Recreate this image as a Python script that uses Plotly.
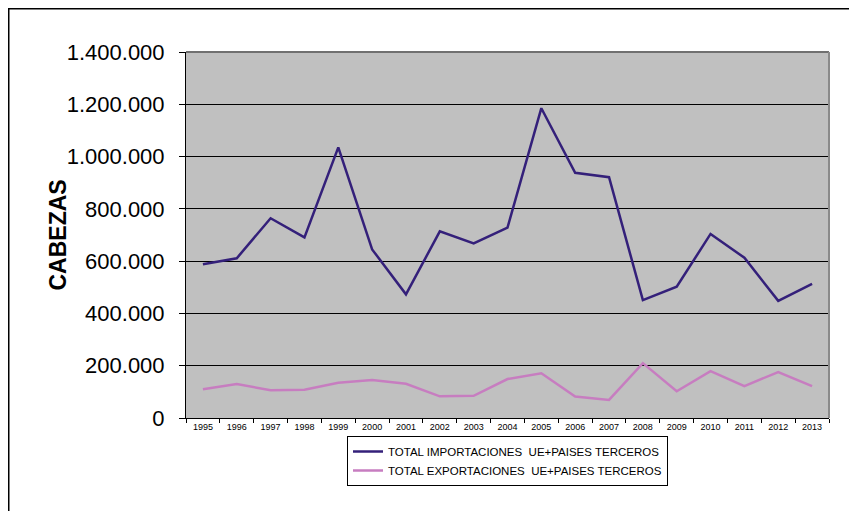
import plotly.graph_objects as go

years = [str(y) for y in range(1995, 2014)]
importaciones = [588000, 611000, 764000, 691000, 1035000, 645000, 473000, 714000, 668000, 728000,
                 1185000, 938000, 921000, 451000, 502000, 704000, 613000, 448000, 513000]
exportaciones = [110000, 130000, 106000, 108000, 135000, 145000, 131000, 83000, 85000, 149000,
                 171000, 82000, 69000, 210000, 102000, 179000, 122000, 176000, 122000]
y_ticks = [0, 200000, 400000, 600000, 800000, 1000000, 1200000, 1400000]

FONT = "Arial, Liberation Sans, sans-serif"

fig = go.Figure()
fig.add_trace(go.Scatter(x=years, y=importaciones, mode="lines",
                         name="TOTAL IMPORTACIONES  UE+PAISES TERCEROS",
                         line=dict(color="#34207a", width=2.5)))
fig.add_trace(go.Scatter(x=years, y=exportaciones, mode="lines",
                         name="TOTAL EXPORTACIONES  UE+PAISES TERCEROS",
                         line=dict(color="#c77dc0", width=2.5)))

OFF = 8  # page body margin
W, H = 857 - OFF, 511 - OFF
L, R, T, B = 186 - OFF, 829 - OFF, 52 - OFF, 418 - OFF
pw, ph = R - L, B - T

def px(xp):
    return (xp - L) / pw

def py(yp):
    return (B - yp) / ph

fig.update_layout(
    width=W, height=H,
    margin=dict(l=L, r=W - R, t=T, b=H - B),
    paper_bgcolor="white",
    plot_bgcolor="#c0c0c0",
    separators=",.",
    font=dict(family=FONT, color="black"),
    showlegend=True,
    legend=dict(x=0.5, xanchor="center", y=py(436 - OFF), yanchor="top",
                orientation="v", bgcolor="white", bordercolor="black", borderwidth=1,
                font=dict(size=11.5, family=FONT), tracegroupgap=0, itemwidth=30),
    xaxis=dict(type="category", showgrid=False, showline=True, linecolor="black", linewidth=1,
               ticks="outside", tickson="boundaries", ticklen=4, tickcolor="black",
               tickfont=dict(size=9, family=FONT), range=[-0.5, 18.5], mirror=False),
    yaxis=dict(range=[0, 1400000], tickvals=y_ticks, tickformat=",d",
               showgrid=True, gridcolor="black", gridwidth=1,
               showline=True, linecolor="black", linewidth=1,
               ticks="outside", ticklen=6, tickcolor="black", ticklabelstandoff=10,
               tickfont=dict(size=22, family=FONT), zeroline=False),
    annotations=[
        dict(text="<b>CABEZAS</b>", xref="paper", yref="paper", x=px(57.5 - OFF), y=0.5,
             xanchor="center", yanchor="middle", textangle=-90, showarrow=False,
             font=dict(size=23, family=FONT, color="black")),
    ],
    shapes=[
        dict(type="line", xref="paper", yref="paper", x0=0, x1=1, y0=1, y1=1,
             line=dict(color="#707070", width=2)),
        dict(type="line", xref="paper", yref="paper", x0=1, x1=1, y0=0, y1=1,
             line=dict(color="#8a8a8a", width=2)),
        dict(type="rect", xref="paper", yref="paper", x0=px(0.75), x1=px(900), y0=py(600), y1=py(0.75),
             line=dict(color="black", width=1.5), layer="below"),
    ],
)

fig.write_html("out.html")
